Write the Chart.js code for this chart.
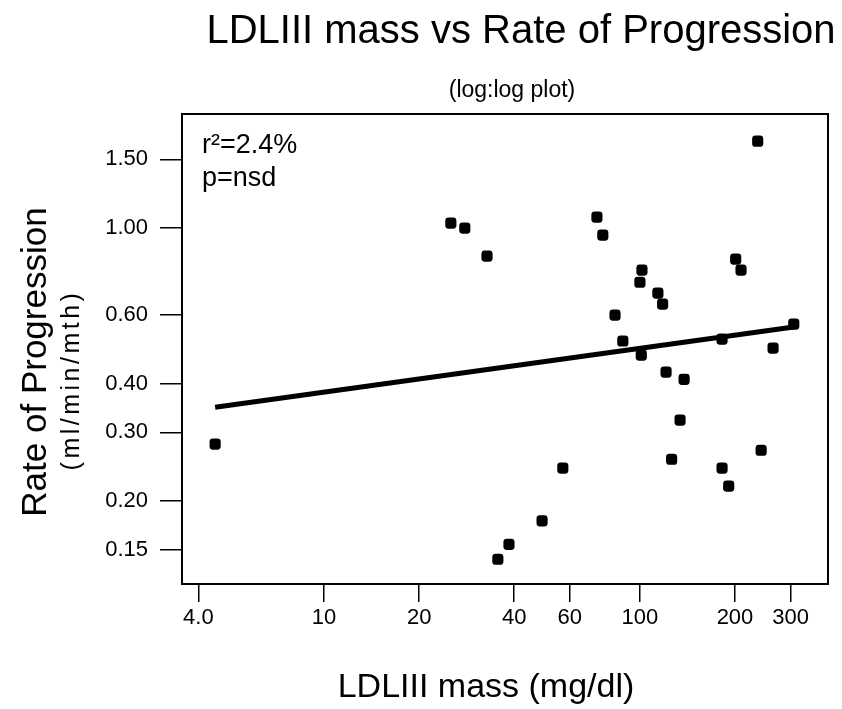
<!DOCTYPE html>
<html lang="en">
<head>
  <meta charset="UTF-8">
  <title>LDLIII mass vs Rate of Progression</title>
  <script src="https://cdn.jsdelivr.net/npm/chart.js"></script>
  <style>
    body {
      margin: 0;
      background: #fff;
    }
    .wrap {
      width: 842px;
      height: 709px;
    }
  </style>
</head>
<body>
  <div class="wrap"><canvas id="chart" width="842" height="709"></canvas></div>

  <script>
    // LDLIII mass (mg/dl) against rate of progression (ml/min/mth)
    const ldlMass = [4.52, 25.2, 27.9, 32.8, 35.5, 38.5, 49.0, 57.0, 73.1, 76.3,
                     83.4, 88.3, 100, 101.5, 101, 114, 118, 121, 138, 134,
                     126, 182, 182, 191, 201, 209, 236, 242, 264, 307];
    const progression = [0.28, 1.03, 1.00, 0.848, 0.142, 0.155, 0.178, 0.243, 1.067, 0.96,
                         0.599, 0.514, 0.727, 0.781, 0.473, 0.682, 0.639, 0.428, 0.41, 0.3225,
                         0.256, 0.52, 0.243, 0.2185, 0.833, 0.781, 1.67, 0.270, 0.493, 0.568];

    // fitted line end points
    const fitMass = [4.52, 307];
    const fitRate = [0.348, 0.558];

    const xTicks = [4, 10, 20, 40, 60, 100, 200, 300];
    const xTickLabels = ['4.0', '10', '20', '40', '60', '100', '200', '300'];
    const yTicks = [0.15, 0.2, 0.3, 0.4, 0.6, 1.0, 1.5];
    const yTickLabels = ['0.15', '0.20', '0.30', '0.40', '0.60', '1.00', '1.50'];

    const titleText = 'LDLIII mass vs Rate of Progression';
    const subtitleText = '(log:log plot)';
    const xTitle = 'LDLIII mass (mg/dl)';
    const yTitle = 'Rate of Progression';
    const yUnits = '(ml/min/mth)';
    const statLines = ['r\u00B2=2.4%', 'p=nsd'];

    const FONT = '"Liberation Sans", Arial, sans-serif';

    const decorations = {
      id: 'decorations',
      afterDraw(chart) {
        const { ctx, chartArea: a } = chart;
        ctx.save();
        ctx.strokeStyle = '#000';
        ctx.lineWidth = 2;
        ctx.strokeRect(a.left, a.top, a.right - a.left, a.bottom - a.top);

        ctx.fillStyle = '#000';
        ctx.textBaseline = 'alphabetic';
        ctx.textAlign = 'center';
        ctx.font = '40px ' + FONT;
        ctx.fillText(titleText, 521, 43);
        ctx.font = '23px ' + FONT;
        ctx.fillText(subtitleText, 512, 97);
        ctx.font = '34px ' + FONT;
        ctx.fillText(xTitle, 486, 697);

        ctx.save();
        ctx.translate(46, 362);
        ctx.rotate(-Math.PI / 2);
        ctx.font = '35px ' + FONT;
        ctx.fillText(yTitle, 0, 0);
        ctx.restore();

        ctx.save();
        ctx.translate(79, 380);
        ctx.rotate(-Math.PI / 2);
        ctx.font = '25px ' + FONT;
        ctx.letterSpacing = '3.5px';
        ctx.fillText(yUnits, 0, 0);
        ctx.restore();

        ctx.textAlign = 'left';
        ctx.font = '27px ' + FONT;
        ctx.fillText(statLines[0], 202, 153);
        ctx.fillText(statLines[1], 202, 186);
        ctx.restore();
      }
    };

    const points = ldlMass.map((m, i) => ({ x: m, y: progression[i] }));
    const fitLine = fitMass.map((m, i) => ({ x: m, y: fitRate[i] }));

    new Chart(document.getElementById('chart'), {
      type: 'scatter',
      data: {
        datasets: [{
          data: points,
          pointStyle: 'rectRounded',
          pointRadius: 6.5,
          pointBackgroundColor: '#000',
          pointBorderColor: '#000',
          pointBorderWidth: 0,
          order: 1
        }, {
          type: 'line',
          data: fitLine,
          borderColor: '#000',
          borderWidth: 5,
          pointRadius: 0,
          fill: false,
          order: 2
        }]
      },
      options: {
        responsive: false,
        animation: false,
        layout: { padding: { left: 0, top: 114, right: 14, bottom: 0 } },
        plugins: {
          legend: { display: false },
          tooltip: { enabled: false }
        },
        scales: {
          x: {
            type: 'logarithmic',
            min: 3.55,
            max: 394,
            afterBuildTicks: s => { s.ticks = xTicks.map(v => ({ value: v })); },
            afterFit: s => { s.height = 125; },
            border: { display: false },
            grid: { drawOnChartArea: false, drawTicks: true, tickLength: 18, color: '#000', lineWidth: 1.5 },
            ticks: {
              autoSkip: false,
              maxRotation: 0,
              padding: 3,
              color: '#000',
              font: { family: FONT, size: 22 },
              callback: (v, i) => xTickLabels[i]
            }
          },
          y: {
            type: 'logarithmic',
            min: 0.1227,
            max: 1.96,
            afterBuildTicks: s => { s.ticks = yTicks.map(v => ({ value: v })); },
            afterFit: s => { s.width = 182; },
            border: { display: false },
            grid: { drawOnChartArea: false, drawTicks: true, tickLength: 22, color: '#000', lineWidth: 1.5 },
            ticks: {
              autoSkip: false,
              padding: 12,
              color: '#000',
              font: { family: FONT, size: 22 },
              callback: (v, i) => yTickLabels[i]
            }
          }
        }
      },
      plugins: [decorations]
    });
  </script>
</body>
</html>
